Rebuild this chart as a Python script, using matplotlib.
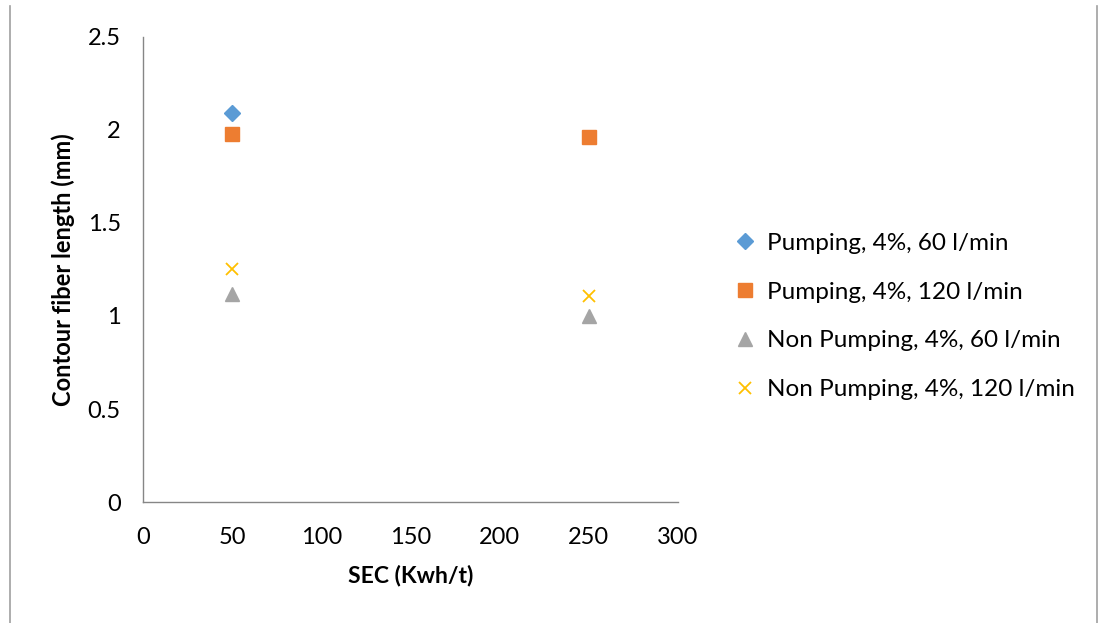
import matplotlib.pyplot as plt
from matplotlib.lines import Line2D

# fibre length vs specific energy consumption
sec_p60 = [50]
len_p60 = [2.09]
sec_p120 = [50, 250]
len_p120 = [1.98, 1.96]
sec_np60 = [50, 250]
len_np60 = [1.12, 1.00]
sec_np120 = [50, 250]
len_np120 = [1.25, 1.11]

labels = ["Pumping, 4%, 60 l/min", "Pumping, 4%, 120 l/min",
          "Non Pumping, 4%, 60 l/min", "Non Pumping, 4%, 120 l/min"]

plt.rcParams['font.family'] = ['Lato', 'DejaVu Sans']

fig = plt.figure(figsize=(10.99, 6.23), dpi=100)
ax = fig.add_axes([0.130, 0.194, 0.487, 0.747])

ax.plot(sec_p60, len_p60, linestyle="none", marker="D", ms=8.5, color="#5B9BD5", label=labels[0])
ax.plot(sec_p120, len_p120, linestyle="none", marker="s", ms=10.5, color="#ED7D31", label=labels[1])
ax.plot(sec_np60, len_np60, linestyle="none", marker="^", ms=10, color="#A5A5A5", label=labels[2])
ax.plot(sec_np120, len_np120, linestyle="none", marker="x", ms=9, mew=1.3, color="#FFC000", label=labels[3])

ax.set_xlim(0, 300)
ax.set_ylim(0, 2.5)
ax.set_xticks([0, 50, 100, 150, 200, 250, 300])
ax.set_yticks([0, 0.5, 1, 1.5, 2, 2.5])
ax.set_yticklabels(["0", "0.5", "1", "1.5", "2", "2.5"])
ax.tick_params(length=0, labelsize=17, pad=18)
ax.tick_params(axis='y', pad=16)
for side in ["top", "right"]:
    ax.spines[side].set_visible(False)
for side in ["left", "bottom"]:
    ax.spines[side].set_color("#868686")
    ax.spines[side].set_linewidth(1.0)

ax.set_xlabel("SEC (Kwh/t)", fontsize=16.5, fontweight="bold", labelpad=12)
ax.set_ylabel("Contour fiber length (mm)", fontsize=17, fontweight="bold", labelpad=9)

fig.legend(loc="center left", bbox_to_anchor=(0.659, 0.492), frameon=False,
           fontsize=17.5, labelspacing=1.15, handlelength=0.9, handletextpad=0.45,
           borderaxespad=0)

# outer chart border (left and right edges)
fig.add_artist(Line2D([0.0095, 0.0095], [0, 0.99], color="#A0A0A0", lw=1.2))
fig.add_artist(Line2D([0.9985, 0.9985], [0, 0.99], color="#A0A0A0", lw=1.2))

fig.savefig("out.png", dpi=100)
